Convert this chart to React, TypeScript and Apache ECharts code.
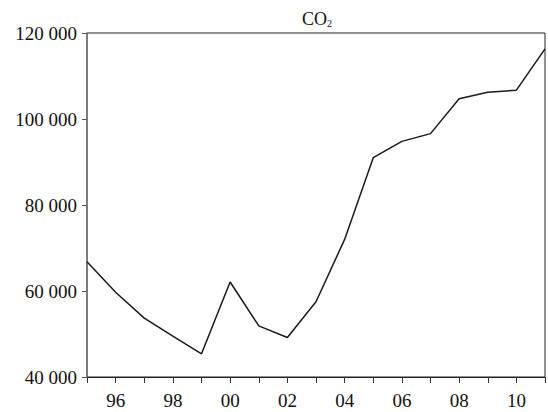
import React, { useEffect, useRef } from "react";
import * as echarts from "echarts";

const years = [1995, 1996, 1997, 1998, 1999, 2000, 2001, 2002, 2003, 2004, 2005, 2006, 2007, 2008, 2009, 2010, 2011];
const co2 = [66800, 59700, 53700, 49500, 45400, 62100, 51900, 49200, 57500, 72000, 91000, 94800, 96600, 104700, 106200, 106700, 116300];
const titleText = "CO{sub|2}";

export default function App() {
  const ref = useRef<HTMLDivElement>(null);
  useEffect(() => {
    if (!ref.current) return;
    const chart = echarts.init(ref.current, null, { renderer: "svg" });
    const font = "'Liberation Serif', 'Times New Roman', serif";
    chart.setOption({
      animation: false,
      backgroundColor: "#ffffff",
      title: {
        text: titleText,
        left: 312,
        top: 4,
        textAlign: "center",
        textStyle: {
          fontFamily: font,
          fontSize: 18,
          fontWeight: "normal",
          color: "#111",
          rich: {
            sub: { fontFamily: font, fontSize: 10, color: "#111", verticalAlign: "bottom", padding: [9, 0, 0, 0] },
          },
        },
      },
      grid: {
        left: 87,
        right: 2,
        top: 33,
        bottom: 35,
        show: true,
        borderColor: "#222",
        borderWidth: 1,
      },
      xAxis: {
        type: "value",
        min: 1995,
        max: 2011,
        interval: 1,
        axisLine: { show: true, lineStyle: { color: "#222", width: 1 } },
        axisTick: { show: true, inside: false, length: 6, lineStyle: { color: "#333" } },
        splitLine: { show: false },
        axisLabel: {
          fontFamily: font,
          fontSize: 19,
          color: "#111",
          margin: 14,
          formatter: (v: number) => (v % 2 === 0 ? String(v % 100).padStart(2, "0") : ""),
        },
      },
      yAxis: {
        type: "value",
        min: 40000,
        max: 120000,
        interval: 20000,
        axisLine: { show: true, lineStyle: { color: "#777", width: 1.5 } },
        axisTick: { show: true, inside: false, length: 5, lineStyle: { color: "#555" } },
        splitLine: { show: false },
        axisLabel: {
          fontFamily: font,
          fontSize: 19,
          color: "#111",
          margin: 10,
          formatter: (v: number) => {
            const s = String(v);
            return s.slice(0, s.length - 3) + " " + s.slice(s.length - 3);
          },
        },
      },
      series: [
        {
          type: "line",
          data: years.map((y, i) => [y, co2[i]]),
          showSymbol: false,
          symbol: "none",
          lineStyle: { color: "#1a1a1a", width: 1.5 },
        },
      ],
    });
    return () => chart.dispose();
  }, []);
  return <div ref={ref} style={{ position: "fixed", left: 0, top: 0, width: 548, height: 412 }} />;
}
